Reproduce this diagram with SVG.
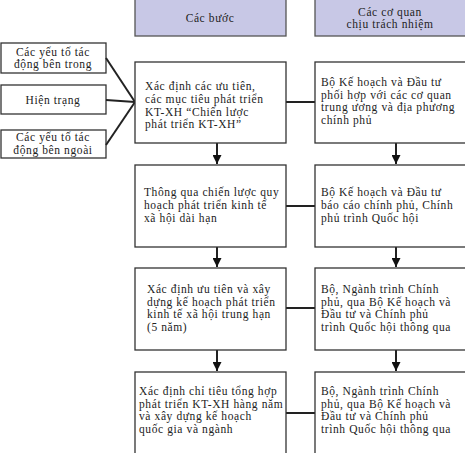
<svg xmlns="http://www.w3.org/2000/svg" width="465" height="453" viewBox="0 0 465 453">
<style>
.box{fill:#fff;stroke:#333;stroke-width:1.3}
.hdr{fill:#c8c8e6;stroke:#555;stroke-width:1.3}
text{font-family:"Liberation Serif","Times New Roman",serif;font-size:11.5px;fill:#222;letter-spacing:0.6px}
.c{text-anchor:middle}
.ln{stroke:#222;stroke-width:2;fill:none}
</style>
<defs>
<marker id="ah" viewBox="0 0 10 10" refX="10" refY="5" markerWidth="4.5" markerHeight="4.5" orient="auto" markerUnits="strokeWidth">
<path d="M0,0 L10,5 L0,10 Z" fill="#111"/>
</marker>
</defs>
<rect width="465" height="453" fill="#fff"/>
<g id="hdr-steps"><rect class="hdr" x="135" y="-2" width="151" height="38"/><text class="c" x="210" y="22">Các bước</text></g>
<g id="hdr-agencies"><rect class="hdr" x="315" y="-2" width="152" height="38"/><text class="c" x="390" y="15.6">Các cơ quan</text><text class="c" x="390" y="28.4">chịu trách nhiệm</text></g>
<g id="in-internal"><rect class="box" x="1" y="43" width="105" height="30"/><text class="c" x="53" y="55.6">Các yếu tố tác</text><text class="c" x="53" y="68.4">động bên trong</text></g>
<g id="in-status"><rect class="box" x="1" y="85" width="105" height="29"/><text class="c" x="53" y="104">Hiện trạng</text></g>
<g id="in-external"><rect class="box" x="1" y="130" width="105" height="28"/><text class="c" x="53" y="141">Các yếu tố tác</text><text class="c" x="53" y="154">động bên ngoài</text></g>
<g id="connectors">
<line class="ln" x1="106" y1="58" x2="135" y2="102"/>
<line class="ln" x1="106" y1="100" x2="135" y2="102"/>
<line class="ln" x1="106" y1="145" x2="135" y2="102"/>
<line class="ln" x1="286" y1="102" x2="315" y2="102"/>
<line class="ln" x1="286" y1="206" x2="315" y2="206"/>
<line class="ln" x1="286" y1="308" x2="315" y2="308"/>
<line class="ln" x1="286" y1="413" x2="315" y2="413"/>
<line class="ln" x1="217" y1="143" x2="217" y2="164" marker-end="url(#ah)"/>
<line class="ln" x1="217" y1="247" x2="217" y2="267" marker-end="url(#ah)"/>
<line class="ln" x1="217" y1="350" x2="217" y2="371" marker-end="url(#ah)"/>
<line class="ln" x1="396" y1="143" x2="396" y2="164" marker-end="url(#ah)"/>
<line class="ln" x1="396" y1="247" x2="396" y2="267" marker-end="url(#ah)"/>
<line class="ln" x1="396" y1="350" x2="396" y2="371" marker-end="url(#ah)"/>
</g>
<g id="step1"><rect class="box" x="135" y="62" width="151" height="81"/>
<text x="145" y="90">Xác định các ưu tiên,</text><text x="145" y="102.8">các mục tiêu phát triển</text><text x="145" y="115.6">KT-XH “Chiến lược</text><text x="145" y="128.4">phát triển KT-XH”</text></g>
<g id="agency1"><rect class="box" x="315" y="62" width="152" height="81"/>
<text x="321" y="85.8">Bộ Kế hoạch và Đầu tư</text><text x="321" y="98.6">phối hợp với các cơ quan</text><text x="321" y="111.4">trung ương và địa phương</text><text x="321" y="124.2">chính phủ</text></g>
<g id="step2"><rect class="box" x="135" y="165" width="151" height="82"/>
<text x="144" y="196.2">Thông qua chiến lược quy</text><text x="144" y="209">hoạch phát triển kinh tế</text><text x="144" y="221.8">xã hội dài hạn</text></g>
<g id="agency2"><rect class="box" x="315" y="165" width="152" height="82"/>
<text x="321" y="196.2">Bộ Kế hoạch và Đầu tư</text><text x="321" y="209">báo cáo chính phủ, Chính</text><text x="321" y="221.8">phủ trình Quốc hội</text></g>
<g id="step3"><rect class="box" x="135" y="268" width="151" height="82"/>
<text x="147" y="292.8">Xác định ưu tiên và xây</text><text x="147" y="305.6">dựng kế hoạch phát triển</text><text x="147" y="318.4">kinh tế xã hội trung hạn</text><text x="147" y="331.2">(5 năm)</text></g>
<g id="agency3"><rect class="box" x="315" y="268" width="152" height="82"/>
<text x="321" y="292.8">Bộ, Ngành trình Chính</text><text x="321" y="305.6">phủ, qua Bộ Kế hoạch và</text><text x="321" y="318.4">Đầu tư và Chính phủ</text><text x="321" y="331.2">trình Quốc hội thông qua</text></g>
<g id="step4"><rect class="box" x="135" y="372" width="151" height="85"/>
<text x="139" y="394.8">Xác định chỉ tiêu tổng hợp</text><text x="139" y="407.6">phát triển KT-XH hàng năm</text><text x="139" y="420.4">và xây dựng kế hoạch</text><text x="139" y="433.2">quốc gia và ngành</text></g>
<g id="agency4"><rect class="box" x="315" y="372" width="152" height="85"/>
<text x="321" y="394.8">Bộ, Ngành trình Chính</text><text x="321" y="407.6">phủ, qua Bộ Kế hoạch và</text><text x="321" y="420.4">Đầu tư và Chính phủ</text><text x="321" y="433.2">trình Quốc hội thông qua</text></g>
</svg>
